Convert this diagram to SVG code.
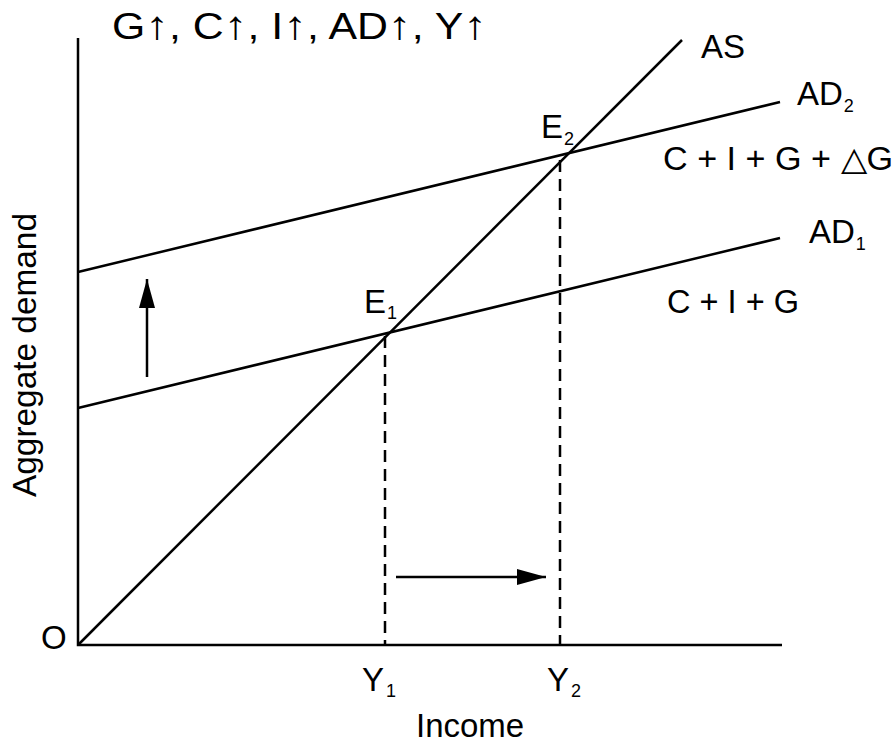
<svg xmlns="http://www.w3.org/2000/svg" width="894" height="744" viewBox="0 0 894 744">
<defs>
<style>
.ln{stroke:#000;stroke-width:2.5;fill:none}
.ds{stroke:#000;stroke-width:2.5;fill:none;stroke-dasharray:12,7}
.t{font-family:"Liberation Sans",Arial,sans-serif;font-size:33px;fill:#000}
.s{font-size:18px}
.ar{font-size:40px}
</style>
<marker id="ah" markerWidth="29" markerHeight="16" refX="29" refY="8" orient="auto" markerUnits="userSpaceOnUse">
<path d="M0,0 L29,8 L0,16 Z" fill="#000"/>
</marker>
</defs>
<rect width="894" height="744" fill="#fff"/>
<g id="axes">
<polyline class="ln" points="78,38 78,645 782,645"/>
</g>
<g id="connectors">
<line class="ln" x1="78" y1="645" x2="682" y2="40"/>
<line class="ln" x1="78" y1="408" x2="780" y2="238"/>
<line class="ln" x1="78" y1="272" x2="780" y2="102"/>
<line class="ds" x1="385" y1="336" x2="385" y2="645"/>
<line class="ds" x1="560" y1="160" x2="560" y2="645"/>
<line class="ln" x1="147" y1="377" x2="147" y2="279" marker-end="url(#ah)"/>
<line class="ln" x1="396" y1="577" x2="546" y2="577" marker-end="url(#ah)"/>
</g>
<g id="title"><text class="t" x="112" y="39" style="font-size:36px" textLength="375" lengthAdjust="spacingAndGlyphs">G<tspan class="ar">↑</tspan>, C<tspan class="ar">↑</tspan>, I<tspan class="ar">↑</tspan>, AD<tspan class="ar">↑</tspan>, Y<tspan class="ar">↑</tspan></text></g>
<g id="AS"><text class="t" x="701" y="58">AS</text></g>
<g id="AD2"><text class="t" x="797" y="105">AD<tspan class="s" dx="1" dy="7">2</tspan></text></g>
<g id="AD2label"><text class="t" x="663" y="170" textLength="230" lengthAdjust="spacingAndGlyphs">C + I + G + △G</text></g>
<g id="AD1"><text class="t" x="809" y="243">AD<tspan class="s" dx="1" dy="7">1</tspan></text></g>
<g id="AD1label"><text class="t" x="667" y="313" textLength="132" lengthAdjust="spacingAndGlyphs">C + I + G</text></g>
<g id="E1"><text class="t" x="364" y="313">E<tspan class="s" dx="1" dy="6">1</tspan></text></g>
<g id="E2"><text class="t" x="541" y="138">E<tspan class="s" dx="1" dy="7">2</tspan></text></g>
<g id="O"><text class="t" x="41" y="649">O</text></g>
<g id="Y1"><text class="t" x="362" y="691">Y<tspan class="s" dx="2" dy="6">1</tspan></text></g>
<g id="Y2"><text class="t" x="547" y="691">Y<tspan class="s" dx="2" dy="6">2</tspan></text></g>
<g id="income"><text class="t" x="416" y="737">Income</text></g>
<g id="yaxis"><text class="t" transform="translate(36,355) rotate(-90)" text-anchor="middle" textLength="284" lengthAdjust="spacingAndGlyphs">Aggregate demand</text></g>
</svg>
